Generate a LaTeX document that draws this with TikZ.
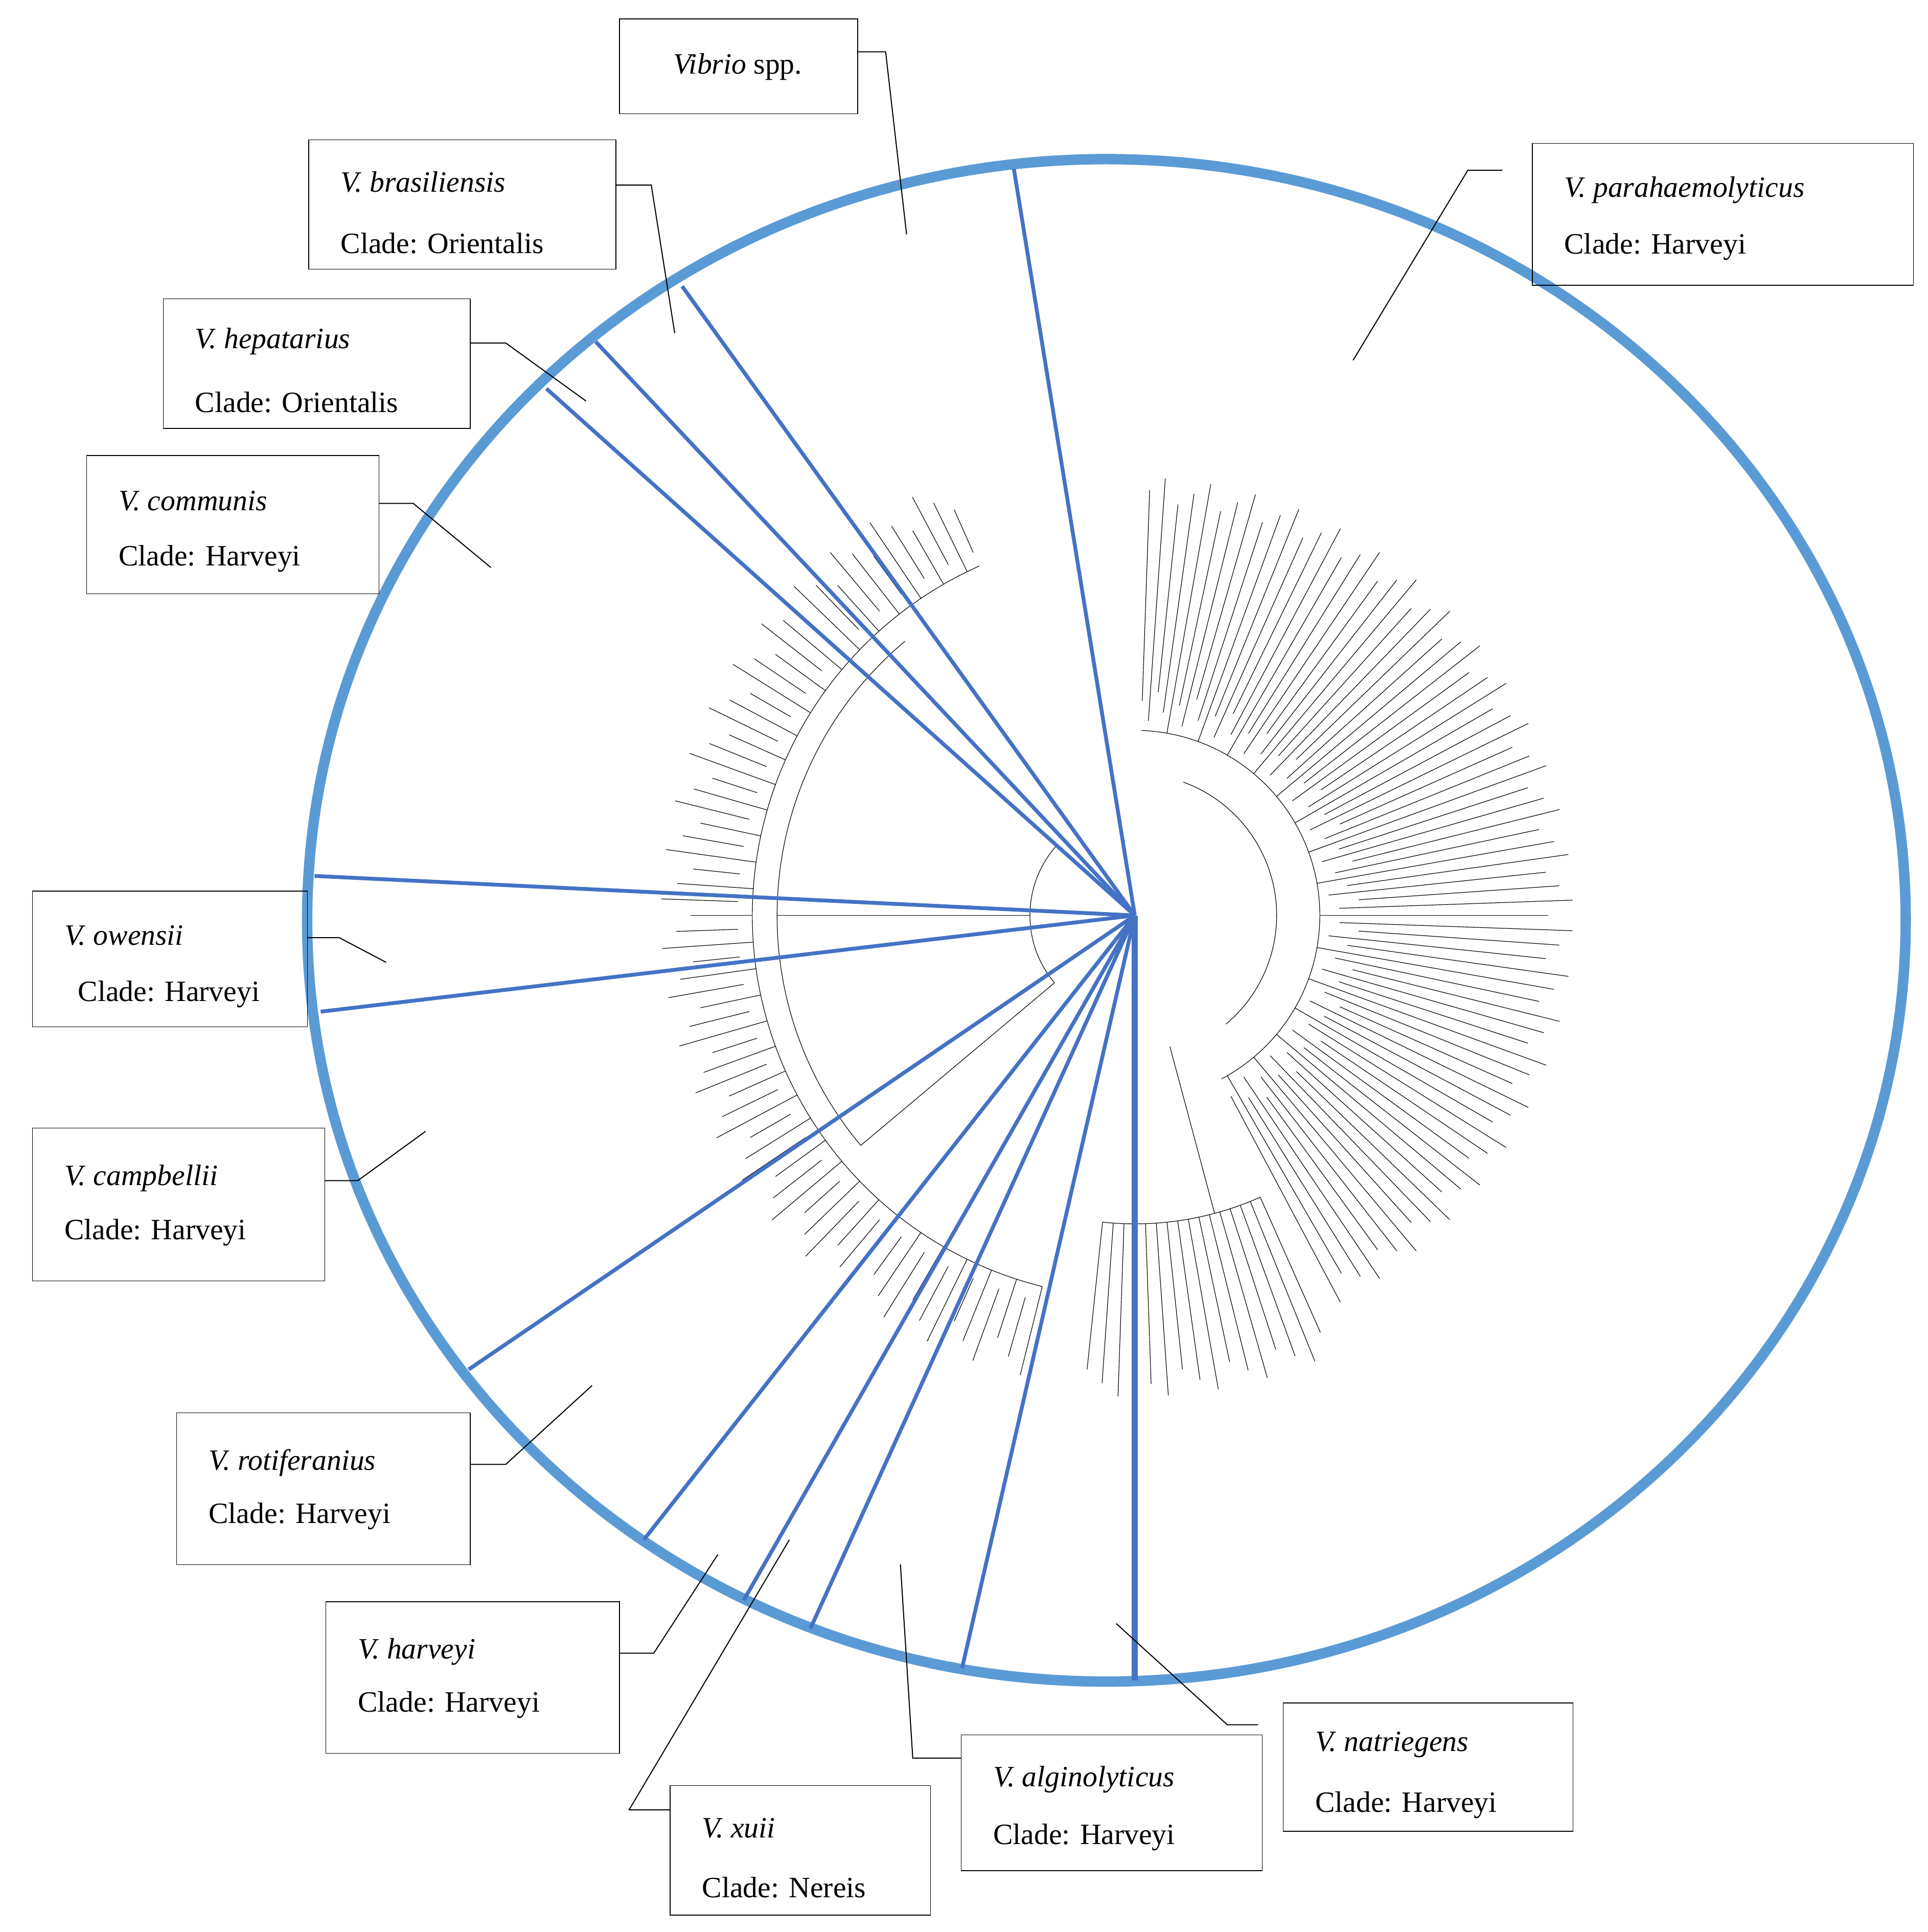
\documentclass[tikz,border=0pt]{standalone}
\usepackage{fontspec}
\setmainfont{Liberation Serif}
\definecolor{ring}{RGB}{91,155,213}
\definecolor{sect}{RGB}{68,114,196}
\begin{document}
\begin{tikzpicture}[x=0.025cm,y=-0.025cm,
  box/.style={draw,thin,align=left,anchor=north west,inner sep=0pt},
  lead/.style={black,line width=0.6pt},
  sec/.style={sect,line width=2.2pt},
  br/.style={black,line width=0.35pt}]
\useasboundingbox (0,0) rectangle (1563,1566);
\coordinate (hub) at (920,742);
% tree (simplified)
\begin{scope}[shift={(920,742)}]
\foreach \a in {-88,-86,...,62} \draw[br] (\a:{150+mod(abs(\a),5)*8}) -- (\a:{335+mod(abs(\a),3)*10});
\draw[br] (-70:115) arc (-70:50:115);
\draw[br] (-88:150) arc (-88:-20:150);
\draw[br] (-20:150) arc (-20:62:150);
\foreach \a in {66,68,...,96} \draw[br] (\a:250) -- (\a:{370+mod(\a,3)*10});
\draw[br] (66:250) arc (66:96:250);
\draw[br] (75:110) -- (75:250);
\foreach \a in {104,106,...,246} \draw[br] (\a:{310+mod(\a,4)*6}) -- (\a:{360+mod(\a,3)*12});
\draw[br] (104:310) arc (104:246:310);
\draw[br] (140:290) arc (140:230:290);
\draw[br] (140:85) arc (140:222:85);
\draw[br] (222:85) -- (222:290);
\draw[br] (140:85) -- (140:290);
\draw[br] (180:85) -- (180:290);
\end{scope}
% ring
\draw[ring,line width=6pt] (897,746) ellipse (648 and 617);
% sectors
\coordinate (s1) at (822,137);
\coordinate (s2) at (553,232);
\coordinate (s3) at (483,277);
\coordinate (s4) at (443,315);
\coordinate (s5) at (255,710);
\coordinate (s6) at (260,820);
\coordinate (s7) at (380,1110);
\coordinate (s8) at (522,1248);
\coordinate (s9) at (603,1297);
\coordinate (s10) at (657,1320);
\coordinate (s11) at (780,1352);
\coordinate (s12) at (920,1362);
\foreach \n in {s1,s2,s3,s4,s5,s6,s7,s8,s9,s10,s11} \draw[sec] (hub) -- (\n);
\draw[sect,line width=3.5pt] (hub) -- (s12);
% boxes
\fontsize{17}{20}\selectfont
\node[box,minimum width=193*0.025cm,minimum height=77*0.025cm] (bV) at (502,15) {};
\node at (598,54) {\textit{Vibrio} spp.};
\newcommand{\cbox}[6]{%
 \node[box,minimum width=#3*0.025cm,minimum height=#4*0.025cm] (#5) at (#1,#2) {};
 \node[anchor=west] at ({#1+18},{#2+#4*0.33}) {\textit{#6}};}
\cbox{250}{113}{249}{105}{bBr}{V. brasiliensis}
\node[anchor=west] at (268,197) {Clade: Orientalis};
\cbox{132}{242}{249}{105}{bHe}{V. hepatarius}
\node[anchor=west] at (150,326) {Clade: Orientalis};
\cbox{70}{369}{237}{112}{bCo}{V. communis}
\node[anchor=west] at (88,453) {Clade: Harveyi};
\cbox{1242}{116}{309}{115}{bPa}{V. parahaemolyticus}
\node[anchor=west] at (1260,200) {Clade: Harveyi};
\cbox{26}{722}{223}{110}{bOw}{V. owensii}
\node[anchor=west] at (55,806) {Clade: Harveyi};
\cbox{26}{914}{237}{124}{bCa}{V. campbellii}
\node[anchor=west] at (44,999) {Clade: Harveyi};
\cbox{143}{1145}{238}{123}{bRo}{V. rotiferanius}
\node[anchor=west] at (161,1229) {Clade: Harveyi};
\cbox{264}{1298}{238}{123}{bHa}{V. harveyi}
\node[anchor=west] at (282,1382) {Clade: Harveyi};
\cbox{543}{1447}{211}{105}{bXu}{V. xuii}
\node[anchor=west] at (561,1530) {Clade: Nereis};
\cbox{779}{1406}{244}{110}{bAl}{V. alginolyticus}
\node[anchor=west] at (797,1489) {Clade: Harveyi};
\cbox{1040}{1380}{235}{104}{bNa}{V. natriegens}
\node[anchor=west] at (1058,1463) {Clade: Harveyi};
% leaders
\coordinate (lV) at (735,190); \draw[lead] (695,42) -- (718,42) -- (lV);
\coordinate (lBr) at (547,270); \draw[lead] (499,150) -- (528,150) -- (lBr);
\coordinate (lHe) at (475,325); \draw[lead] (381,278) -- (410,278) -- (lHe);
\coordinate (lCo) at (398,460); \draw[lead] (307,408) -- (335,408) -- (lCo);
\coordinate (lPa) at (1097,292); \draw[lead] (1218,138) -- (1190,138) -- (lPa);
\coordinate (lOw) at (313,780); \draw[lead] (249,760) -- (275,760) -- (lOw);
\coordinate (lCa) at (345,917); \draw[lead] (263,957) -- (290,957) -- (lCa);
\coordinate (lRo) at (480,1123); \draw[lead] (381,1187) -- (410,1187) -- (lRo);
\coordinate (lHa) at (582,1260); \draw[lead] (502,1340) -- (530,1340) -- (lHa);
\coordinate (lXu) at (640,1248); \draw[lead] (543,1467) -- (510,1467) -- (lXu);
\coordinate (lAl) at (730,1268); \draw[lead] (779,1425) -- (740,1425) -- (lAl);
\coordinate (lNa) at (905,1316); \draw[lead] (1020,1398) -- (995,1398) -- (lNa);
\end{tikzpicture}
\end{document}
